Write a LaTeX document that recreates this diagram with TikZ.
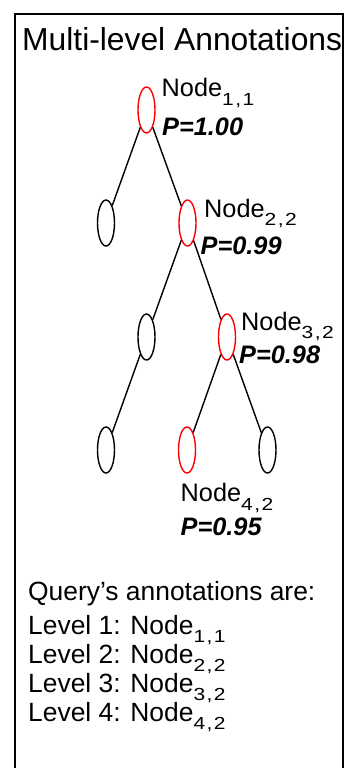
\documentclass[tikz,border=0pt]{standalone}
\usepackage{fontspec}
\setmainfont{Liberation Sans}
\usetikzlibrary{shapes.geometric}
\definecolor{hired}{RGB}{255,0,0}

% widened subscript "a,b"
\newcommand\subpair[2]{\raisebox{-8.3pt}{\fontsize{17.5}{18}\selectfont\scalebox{1.2}[1]{#1\kern1.2pt,\kern1.2pt#2}}}

\begin{document}
\begin{tikzpicture}[x=1pt,y=-1pt,
  treenode/.style={draw=black,shape=ellipse,line width=1.4pt,inner sep=0pt,
    minimum width=17pt,minimum height=46pt},
  chosen/.style={treenode,draw=hired},
  branch/.style={line width=1.4pt,draw=black},
  lbl/.style={anchor=base west,inner sep=0pt,font=\fontsize{25.3}{28}\selectfont},
  prob/.style={anchor=base west,inner sep=0pt,font=\fontsize{25.3}{28}\selectfont\bfseries\itshape},
  body/.style={anchor=base west,inner sep=0pt,font=\fontsize{26.4}{30}\selectfont}]
\useasboundingbox (0,0) rectangle (345,768);

% outer frame, open at the bottom edge
\draw[line width=2.4pt] (15,780) -- (15,14) -- (343,14) -- (343,780);

\node[anchor=base west,inner sep=0pt,font=\fontsize{31.8}{36}\selectfont] (title) at (22,51) {Multi-level Annotations};

% tree
\node[chosen]   (n11) at (146.5,110) {};
\node[treenode] (n21) at (106,223) {};
\node[chosen]   (n22) at (187.5,223) {};
\node[treenode] (n31) at (146.5,337) {};
\node[chosen]   (n32) at (227,337) {};
\node[treenode] (n41) at (106,450) {};
\node[chosen]   (n42) at (187,450) {};
\node[treenode] (n43) at (267.5,450) {};

\draw[branch] (n11) -- (n21);
\draw[branch] (n11) -- (n22);
\draw[branch] (n22) -- (n31);
\draw[branch] (n22) -- (n32);
\draw[branch] (n31) -- (n41);
\draw[branch] (n32) -- (n42);
\draw[branch] (n32) -- (n43);

% labels on the chosen path
\node[lbl]  (l11) at (161.5,96.7) {Node\subpair{1}{1}};
\node[prob] (p11) at (162,135)    {P=1.00};
\node[lbl]  (l22) at (204,217.3)  {Node\subpair{2}{2}};
\node[prob] (p22) at (200.5,254.3) {P=0.99};
\node[lbl]  (l32) at (241,330)    {Node\subpair{3}{2}};
\node[prob] (p32) at (239,363.3)  {P=0.98};
\node[lbl]  (l42) at (180.5,501.7) {Node\subpair{4}{2}};
\node[prob] (p42) at (180.5,535)  {P=0.95};

% summary text
\node[body] (q)  at (28,600) {Query’s annotations are:};
\node[body] (v1) at (28,634) {Level 1: Node\subpair{1}{1}};
\node[body] (v2) at (28,663) {Level 2: Node\subpair{2}{2}};
\node[body] (v3) at (28,692) {Level 3: Node\subpair{3}{2}};
\node[body] (v4) at (28,721) {Level 4: Node\subpair{4}{2}};
\end{tikzpicture}
\end{document}
